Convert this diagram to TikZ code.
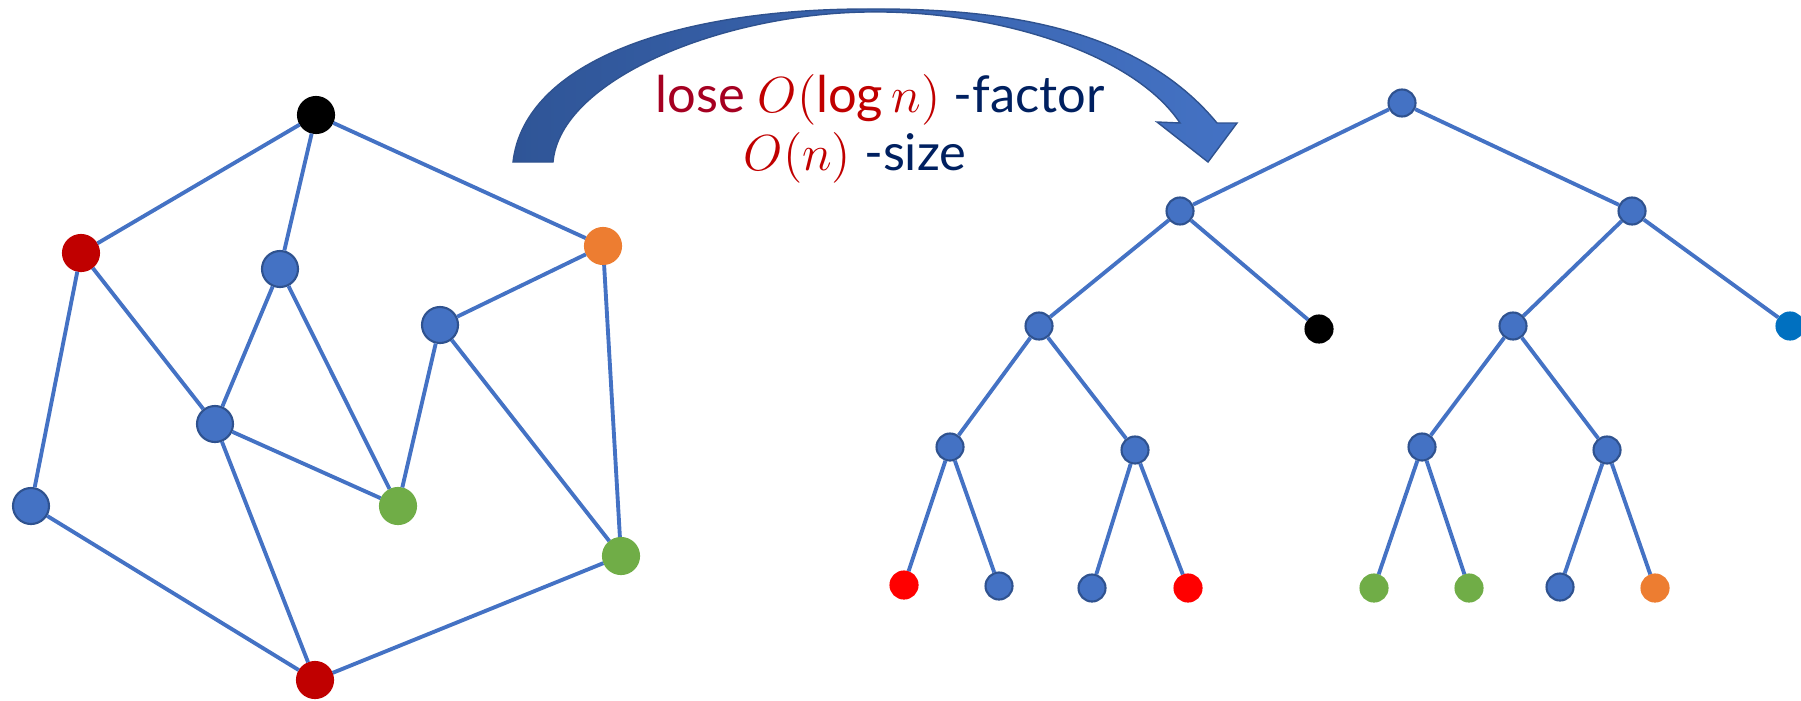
\documentclass[tikz,border=0pt]{standalone}
\usepackage{fontspec}
\setmainfont{Lato}
\usepackage{tikz}
\definecolor{nodeblue}{RGB}{68,114,196}
\definecolor{nodeline}{RGB}{47,82,143}
\definecolor{arrowdark}{RGB}{47,85,151}
\definecolor{deepred}{RGB}{192,0,0}
\definecolor{brightred}{RGB}{255,0,0}
\definecolor{losered}{RGB}{165,0,33}
\definecolor{navytext}{RGB}{0,32,96}
\definecolor{leafgreen}{RGB}{112,173,71}
\definecolor{leaforange}{RGB}{237,125,49}
\definecolor{leafblue}{RGB}{0,112,192}
\tikzset{
  link/.style={nodeblue, line width=1.1pt},
  vertex/.style={circle, draw=nodeline, line width=0.6pt, fill=nodeblue,
                 minimum size=3.6mm, inner sep=0pt},
  colvertex/.style={vertex, draw=#1, fill=#1},
  treenode/.style={circle, draw=nodeline, line width=0.6pt, fill=nodeblue,
                   minimum size=2.7mm, inner sep=0pt},
  colleaf/.style={treenode, draw=#1, fill=#1},
  bigarrow/.style={draw=nodeline, line width=0.4pt,
                   left color=arrowdark, right color=nodeblue},
  claim/.style={font=\fontsize{14.4}{17}\selectfont, anchor=base, inner sep=0pt},
}

\begin{document}
\begin{tikzpicture}[x=0.01cm,y=-0.01cm]
  \path[use as bounding box] (0,0) rectangle (1801,700);

  % graph
  \node[colvertex=black] (k) at (316,115) {};
  \node[colvertex=deepred] (r1) at (81,253) {};
  \node[vertex] (b1) at (280,269) {};
  \node[colvertex=leaforange] (o) at (603,246) {};
  \node[vertex] (b2) at (440,325) {};
  \node[vertex] (b3) at (215,424) {};
  \node[vertex] (b4) at (31,506) {};
  \node[colvertex=leafgreen] (g1) at (398,506) {};
  \node[colvertex=leafgreen] (g2) at (621,556) {};
  \node[colvertex=deepred] (r2) at (315,680) {};
  \foreach \a/\b in {k/r1,k/b1,k/o,r1/b4,r1/b3,b1/b3,b1/g1,o/b2,o/g2,
                     b2/g1,b2/g2,b3/g1,b3/r2,b4/r2,g2/r2}
    \draw[link] (\a) -- (\b);

  % arrow
  \path[bigarrow] (513,162)
    .. controls (525,60) and (680,9) .. (867,9)
    .. controls (1010,8) and (1140,30) .. (1217,123)
    -- (1237,123) -- (1208,162) -- (1157,122) -- (1180,123)
    .. controls (1135,55) and (1000,10) .. (867,12)
    .. controls (720,14) and (560,80) .. (553,162)
    -- cycle;
  \node[claim] (loss) at (880,112)
    {\color{losered}lose \color{deepred}$O(\log n)$ \color{navytext}-factor};
  \node[claim] (size) at (855,170)
    {\color{deepred}$O(n)$ \color{navytext}-size};

  % tree
  \node[treenode] (t) at (1402,103) {};
  \node[treenode] (tl) at (1180,211) {};
  \node[treenode] (tr) at (1632,211) {};
  \node[treenode] (tll) at (1039,326) {};
  \node[colleaf=black] (tlr) at (1319,329) {};
  \node[treenode] (trl) at (1513,326) {};
  \node[colleaf=leafblue] (trr) at (1790,326) {};
  \node[treenode] (tlll) at (950,447) {};
  \node[treenode] (tllr) at (1135,450) {};
  \node[treenode] (trll) at (1422,447) {};
  \node[treenode] (trlr) at (1607,450) {};
  \node[colleaf=brightred] (a1) at (904,585) {};
  \node[treenode] (a2) at (999,586) {};
  \node[treenode] (a3) at (1092,588) {};
  \node[colleaf=brightred] (a4) at (1188,588) {};
  \node[colleaf=leafgreen] (a5) at (1374,588) {};
  \node[colleaf=leafgreen] (a6) at (1469,588) {};
  \node[treenode] (a7) at (1560,587) {};
  \node[colleaf=leaforange] (a8) at (1655,588) {};
  \foreach \a/\b in {t/tl,t/tr,tl/tll,tl/tlr,tr/trl,tr/trr,tll/tlll,tll/tllr,
                     trl/trll,trl/trlr,tlll/a1,tlll/a2,tllr/a3,tllr/a4,
                     trll/a5,trll/a6,trlr/a7,trlr/a8}
    \draw[link] (\a) -- (\b);
\end{tikzpicture}
\end{document}
